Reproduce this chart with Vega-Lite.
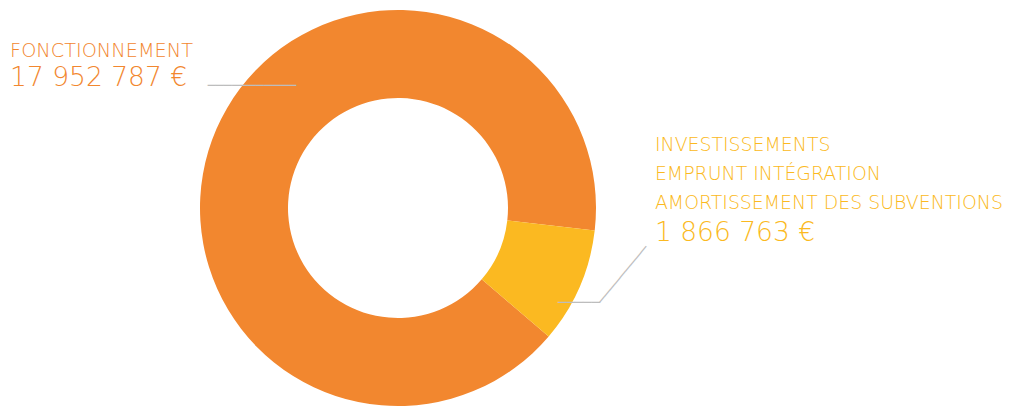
{
  "$schema": "https://vega.github.io/schema/vega-lite/v6.json",
  "width": 1011,
  "height": 406,
  "autosize": {"type": "none"},
  "padding": 0,
  "background": "white",
  "config": {
    "view": {"stroke": null},
    "locale": {"number": {"decimal": ",", "thousands": " ", "grouping": [3], "currency": ["", " €"]}}
  },
  "data": {
    "values": [
      {"poste": "Fonctionnement", "label": "FONCTIONNEMENT", "montant": 17952787},
      {"poste": "Investissements", "label": "INVESTISSEMENTS\nEMPRUNT INTÉGRATION\nAMORTISSEMENT DES SUBVENTIONS", "montant": 1866763}
    ]
  },
  "encoding": {
    "theta": {"field": "montant", "type": "quantitative", "stack": true, "scale": {"range": [1.685, 7.968]}},
    "order": {"field": "poste", "sort": "descending"}
  },
  "layer": [
    {
      "mark": {"type": "arc", "x": 398, "y": 208, "outerRadius": 198, "innerRadius": 110},
      "encoding": {
        "color": {"field": "poste", "type": "nominal", "legend": null,
          "scale": {"domain": ["Fonctionnement", "Investissements"], "range": ["#F2872F", "#FBB921"]}}
      }
    },
    {
      "mark": {"type": "text", "x": 398, "y": 208, "radius": 230, "align": "left", "baseline": "alphabetic", "dx": -177, "dy": -59, "font": "DejaVu Sans", "fontWeight": 200, "fontSize": 19.3, "color": "#F2872F"},
      "encoding": {"text": {"condition": {"test": "datum.poste === 'Fonctionnement'", "field": "label"}, "value": ""}}
    },
    {
      "mark": {"type": "text", "x": 398, "y": 208, "radius": 230, "align": "left", "baseline": "alphabetic", "dx": -177, "dy": -30, "font": "DejaVu Sans", "fontWeight": 200, "fontSize": 26.5, "color": "#F2872F"},
      "encoding": {"text": {"condition": {"test": "datum.poste === 'Fonctionnement'", "field": "montant", "type": "quantitative", "format": "$,.0f"}, "value": ""}}
    },
    {
      "mark": {"type": "text", "x": 398, "y": 208, "radius": 230, "align": "center", "baseline": "middle", "dx": 65, "dy": -30, "font": "DejaVu Sans Mono", "fontSize": 13.4, "color": "#BDBDBD", "text": "───────────"},
      "encoding": {"opacity": {"condition": {"test": "datum.poste === 'Fonctionnement'", "value": 1}, "value": 0}}
    },
    {
      "mark": {"type": "text", "x": 398, "y": 208, "radius": 230, "align": "left", "baseline": "alphabetic", "dx": 46, "dy": -149, "lineBreak": "\n", "lineHeight": 29, "font": "DejaVu Sans", "fontWeight": 200, "fontSize": 18.9, "color": "#FBB921"},
      "encoding": {"text": {"condition": {"test": "datum.poste === 'Investissements'", "field": "label"}, "value": ""}}
    },
    {
      "mark": {"type": "text", "x": 398, "y": 208, "radius": 230, "align": "left", "baseline": "alphabetic", "dx": 46, "dy": -59, "font": "DejaVu Sans", "fontWeight": 200, "fontSize": 26.5, "color": "#FBB921"},
      "encoding": {"text": {"condition": {"test": "datum.poste === 'Investissements'", "field": "montant", "type": "quantitative", "format": "$,.0f"}, "value": ""}}
    },
    {
      "mark": {"type": "text", "x": 398, "y": 208, "radius": 230, "align": "center", "baseline": "middle", "dx": -30, "dy": 3, "font": "DejaVu Sans Mono", "fontSize": 13.9, "color": "#BDBDBD", "text": "─────"},
      "encoding": {"opacity": {"condition": {"test": "datum.poste === 'Investissements'", "value": 1}, "value": 0}}
    },
    {
      "mark": {"type": "text", "x": 398, "y": 208, "radius": 230, "align": "center", "baseline": "middle", "angle": -50.3, "dx": 28.4, "dy": -4.8, "font": "DejaVu Sans Mono", "fontSize": 13.5, "color": "#BDBDBD", "text": "─────────"},
      "encoding": {"opacity": {"condition": {"test": "datum.poste === 'Investissements'", "value": 1}, "value": 0}}
    }
  ]
}
